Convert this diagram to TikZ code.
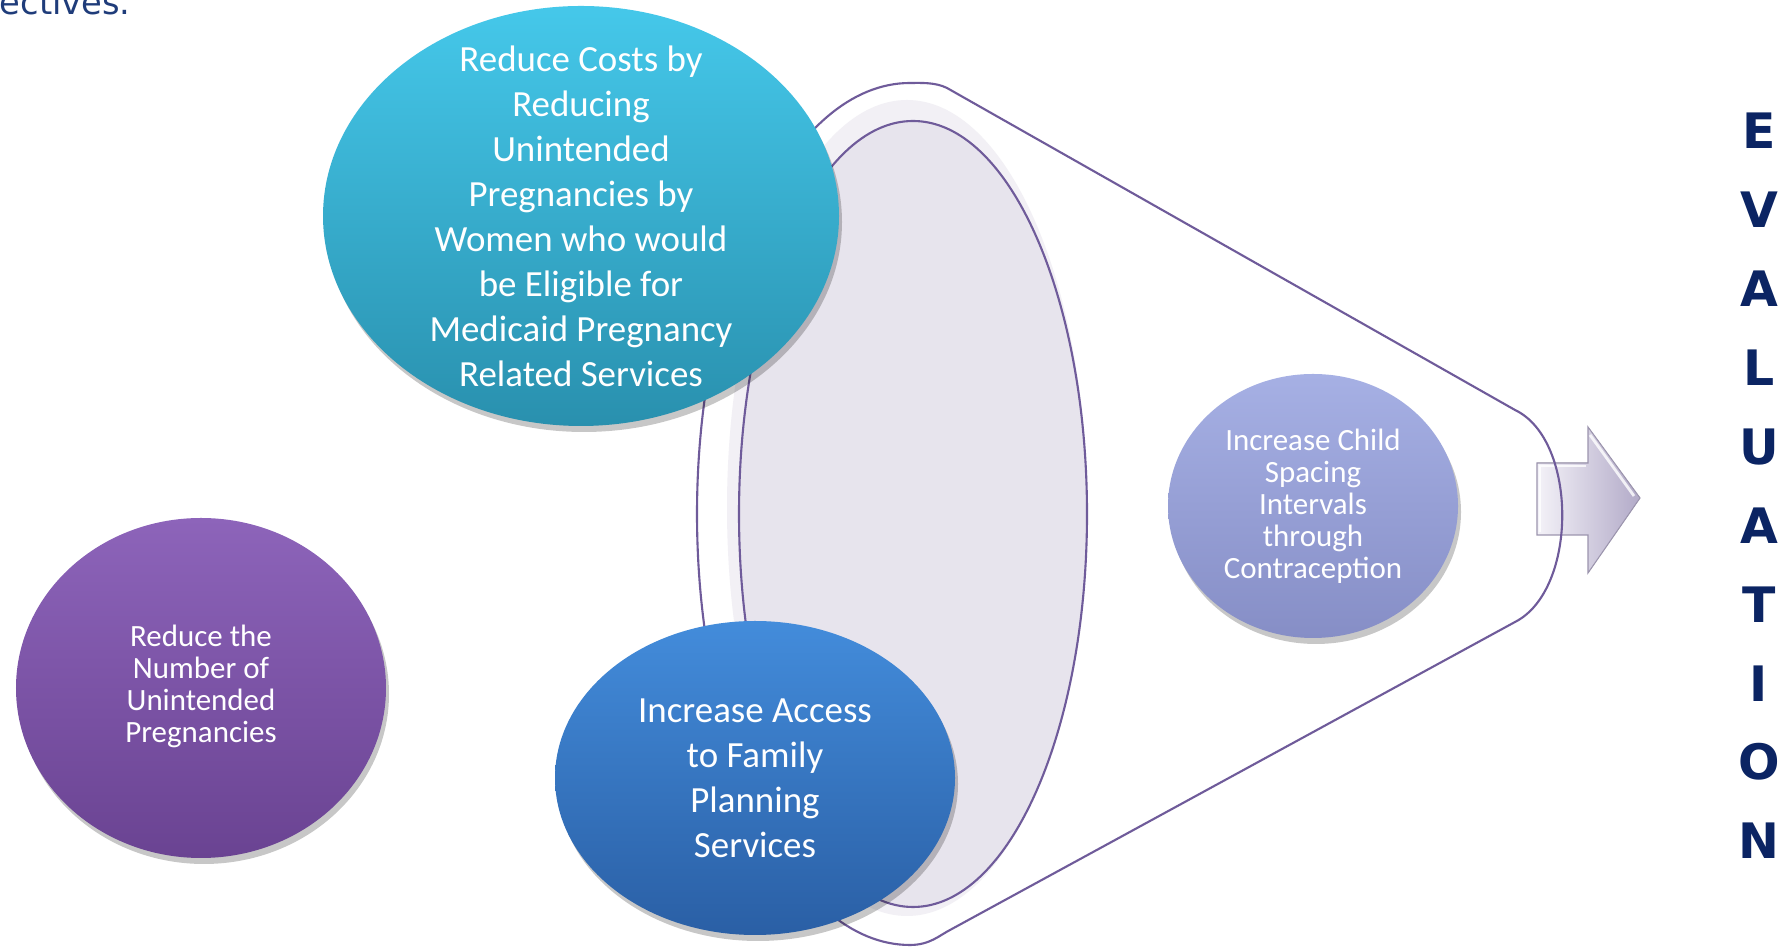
\documentclass[tikz,border=0pt]{standalone}
\usepackage{fontspec}
\usetikzlibrary{shapes.geometric,shadows}
\newfontfamily\calfont{Carlito}
\newfontfamily\evfont{DejaVu Sans}
\newfontfamily\hdfont{DejaVu Sans}
\definecolor{navy}{HTML}{0B2463}
\definecolor{hdcol}{HTML}{1F3C7A}
\definecolor{funnelc}{HTML}{6F5B9A}
\definecolor{innerfill}{HTML}{E7E4ED}
\definecolor{glow}{HTML}{F2F0F5}
\definecolor{tealtop}{HTML}{45C8EA}
\definecolor{tealbot}{HTML}{2990AE}
\definecolor{purptop}{HTML}{8D64BA}
\definecolor{purpbot}{HTML}{6A4392}
\definecolor{bluetop}{HTML}{438CDB}
\definecolor{bluebot}{HTML}{2A5FA5}
\definecolor{lavtop}{HTML}{A6B0E4}
\definecolor{lavbot}{HTML}{868EC6}
\definecolor{arrowl}{HTML}{F4F2F8}
\definecolor{arrowr}{HTML}{B2AAC8}
\definecolor{arrowd}{HTML}{9C95AE}
\begin{document}
\begin{tikzpicture}[
  bubble/.style={ellipse, inner sep=0pt, draw=none,
    drop shadow={shadow xshift=0.03cm, shadow yshift=-0.06cm, opacity=0.22, fill=black}},
  btext/.style={text=white, align=center, inner sep=0pt},
  bigtxt/.style={btext, font=\calfont\fontsize{10.5}{12.8}\selectfont},
  smalltxt/.style={btext, font=\calfont\fontsize{8.8}{9.1}\selectfont},
  funnelline/.style={draw=funnelc, line width=0.6pt},
  letter/.style={text=navy, inner sep=0pt, font=\evfont\bfseries\fontsize{13.9}{13.9}\selectfont}
]
\useasboundingbox (0,0) rectangle (17.78,9.50);
\fill[white] (0,0) rectangle (17.78,9.50);

% heading fragment
\node[anchor=base west, inner sep=0pt, text=hdcol, font=\hdfont\fontsize{9.6}{11}\selectfont] (head) at (-0.01,9.35) {ectives.};

% arrow
\fill[left color=arrowl, right color=arrowr, draw=arrowd, line width=0.3pt]
  (15.37,4.15) -- (15.37,4.87) -- (15.88,4.87) -- (15.88,5.23) -- (16.40,4.52) -- (15.88,3.77) -- (15.88,4.15) -- cycle;
\draw[white, line width=0.8pt, opacity=0.8] (15.90,5.15) -- (16.34,4.54);
\draw[white, line width=0.8pt, opacity=0.8] (15.40,4.18) -- (15.40,4.84) -- (15.86,4.84);

% funnel outline
\draw[funnelline]
  (9.10,8.67) arc[start angle=90, end angle=270, x radius=2.13, y radius=4.31]
  .. controls (9.30,0.05) and (9.40,0.15) .. (9.50,0.20)
  -- (15.15,3.28)
  .. controls (15.78,3.60) and (15.78,5.10) .. (15.15,5.40)
  -- (9.47,8.62)
  .. controls (9.35,8.68) and (9.20,8.67) .. cycle;

% inner ellipse
\fill[glow] (9.07,4.42) ellipse[x radius=1.80, y radius=4.08];
\filldraw[fill=innerfill, draw=funnelc, line width=0.6pt] (9.13,4.36) ellipse[x radius=1.74, y radius=3.93];

% bubbles
\node[bubble, minimum width=5.16cm, minimum height=4.20cm, top color=tealtop, bottom color=tealbot] (teal) at (5.81,7.34) {};
\node[bigtxt] (tealtxt) at (teal.center) {Reduce Costs by\\Reducing\\Unintended\\Pregnancies by\\Women who would\\be Eligible for\\Medicaid Pregnancy\\Related Services};

\node[bubble, minimum width=4.00cm, minimum height=3.14cm, top color=bluetop, bottom color=bluebot] (blue) at (7.55,1.72) {};
\node[bigtxt] (bluetxt) at (blue.center) {Increase Access\\to Family\\Planning\\Services};

\node[bubble, minimum width=3.70cm, minimum height=3.40cm, top color=purptop, bottom color=purpbot] (purp) at (2.01,2.62) {};
\node[smalltxt] (purptxt) at ([yshift=0.02cm]purp.center) {Reduce the\\Number of\\Unintended\\Pregnancies};

\node[bubble, minimum width=2.90cm, minimum height=2.64cm, top color=lavtop, bottom color=lavbot] (lav) at (13.13,4.44) {};
\node[smalltxt] (lavtxt) at (lav.center) {Increase Child\\Spacing\\Intervals\\through\\Contraception};

% EVALUATION
\foreach \l [count=\i from 0] in {E,V,A,L,U,A,T,I,O,N}
  \node[letter] (ev\i) at (17.59,{9.5-(1.31+0.789*\i)}) {\l};
\end{tikzpicture}
\end{document}
